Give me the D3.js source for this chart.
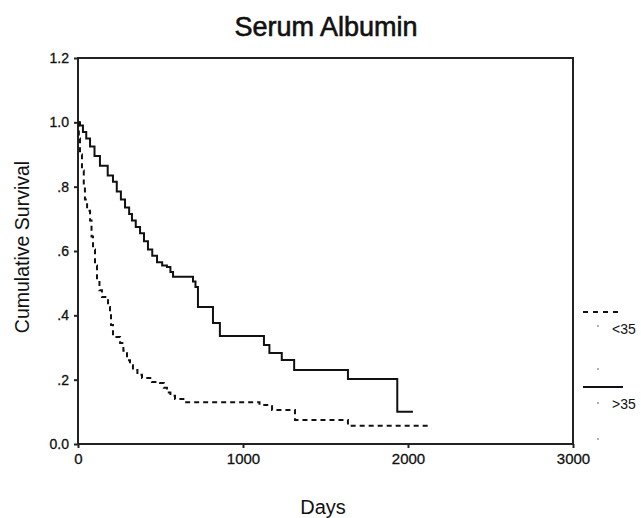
<!DOCTYPE html>
<html lang="en">
<head>
	<meta charset="utf-8">
	<title>Serum Albumin</title>
	<script src="https://cdn.jsdelivr.net/npm/d3@7"></script>
	<style>
		body { margin: 0; background: #fff; }
		text { font-family: "Liberation Sans", Arial, sans-serif; fill: #111; }
	</style>
</head>
<body>
	<script>

		// survival steps: day at which the curve steps, and the survival after it
		var highDays = [0, 12, 30, 50, 73, 100, 133, 164, 180, 212, 235, 260, 285, 310, 327, 350, 376, 400, 424, 450, 479, 510, 539, 560, 576, 697, 712, 727, 818, 860, 1127, 1160, 1235, 1310, 1636, 1935, 2030];
		var highSurv = [1.0, 0.99, 0.97, 0.95, 0.925, 0.895, 0.865, 0.865, 0.835, 0.815, 0.785, 0.76, 0.735, 0.715, 0.695, 0.675, 0.655, 0.63, 0.605, 0.585, 0.565, 0.555, 0.55, 0.535, 0.52, 0.505, 0.488, 0.426, 0.376, 0.336, 0.308, 0.283, 0.261, 0.23, 0.202, 0.1, 0.1];

		var lowDays = [0, 5, 12, 24, 35, 42, 55, 73, 82, 91, 103, 115, 130, 145, 182, 194, 200, 212, 255, 275, 297, 315, 333, 360, 388, 448, 497, 520, 539, 560, 588, 648, 1100, 1176, 1315, 1636, 2133];
		var lowSurv = [1.0, 0.95, 0.9, 0.85, 0.8, 0.76, 0.725, 0.695, 0.645, 0.605, 0.555, 0.515, 0.478, 0.457, 0.426, 0.407, 0.37, 0.333, 0.314, 0.29, 0.26, 0.245, 0.23, 0.215, 0.205, 0.193, 0.19, 0.175, 0.16, 0.15, 0.14, 0.13, 0.121, 0.106, 0.075, 0.057, 0.057];

		var xTicks = [0, 1000, 2000, 3000];
		var yTicks = [0, 0.2, 0.4, 0.6, 0.8, 1.0, 1.2];
		var yTickLabels = ["0.0", ".2", ".4", ".6", ".8", "1.0", "1.2"];
		var groups = ["<35", ">35"];

		var w = 641, h = 518;
		var pLeft = 78, pRight = 573, pTop = 58, pBottom = 444;

		var svg = d3.select("body").append("svg")
			.attr("width", w)
			.attr("height", h);

		var x = d3.scaleLinear().domain([0, 3000]).range([pLeft, pRight]);
		var y = d3.scaleLinear().domain([0, 1.2]).range([pBottom, pTop]);

		// title (scan looks a bit heavier than plain regular)
		svg.append("text")
			.attr("x", 326)
			.attr("y", 36)
			.attr("text-anchor", "middle")
			.attr("font-size", "27px")
			.attr("stroke", "#111")
			.attr("stroke-width", 0.6)
			.text("Serum Albumin");

		// frame
		svg.append("rect")
			.attr("x", pLeft)
			.attr("y", pTop)
			.attr("width", pRight - pLeft)
			.attr("height", pBottom - pTop)
			.attr("fill", "none")
			.attr("stroke", "#222")
			.attr("stroke-width", 2);

		// axes
		var yAxis = d3.axisLeft(y)
			.tickValues(yTicks)
			.tickSize(4)
			.tickFormat(function(d, i){ return yTickLabels[i]; });
		var gy = svg.append("g")
			.attr("transform", "translate(" + pLeft + ",0)")
			.call(yAxis);
		gy.select(".domain").remove();
		gy.selectAll("line").attr("stroke", "#222").attr("stroke-width", 2);
		gy.selectAll("text")
			.attr("font-size", "14px")
			.attr("font-family", "Liberation Sans, Arial, sans-serif")
			.attr("stroke", "#111")
			.attr("stroke-width", 0.3)
			.attr("x", -9);

		var xAxis = d3.axisBottom(x)
			.tickValues(xTicks)
			.tickSize(4)
			.tickFormat(d3.format("d"));
		var gx = svg.append("g")
			.attr("transform", "translate(0," + pBottom + ")")
			.call(xAxis);
		gx.select(".domain").remove();
		gx.selectAll("line").attr("stroke", "#222").attr("stroke-width", 2);
		gx.selectAll("text")
			.attr("font-size", "15px")
			.attr("font-family", "Liberation Sans, Arial, sans-serif")
			.attr("stroke", "#111")
			.attr("stroke-width", 0.3)
			.attr("dy", null)
			.attr("y", 20);

		// axis titles
		svg.append("text")
			.attr("x", 323)
			.attr("y", 514)
			.attr("text-anchor", "middle")
			.attr("font-size", "20px")
			.text("Days");

		svg.append("text")
			.attr("transform", "translate(29,247) rotate(-90)")
			.attr("text-anchor", "middle")
			.attr("font-size", "19.5px")
			.text("Cumulative Survival");

		// survival curves
		var line = d3.line()
			.x(function(d){ return x(d[0]); })
			.y(function(d){ return y(d[1]); })
			.curve(d3.curveStepAfter);

		svg.append("path")
			.datum(d3.zip(lowDays, lowSurv))
			.attr("d", line)
			.attr("fill", "none")
			.attr("stroke", "#111")
			.attr("stroke-width", 2)
			.attr("stroke-dasharray", "5,4");

		svg.append("path")
			.datum(d3.zip(highDays, highSurv))
			.attr("d", line)
			.attr("fill", "none")
			.attr("stroke", "#111")
			.attr("stroke-width", 2);

		// legend
		var legY = [312, 387];
		groups.forEach(function(g, i){
			svg.append("line")
				.attr("x1", 583).attr("x2", 623)
				.attr("y1", legY[i]).attr("y2", legY[i])
				.attr("stroke", "#111")
				.attr("stroke-width", 2)
				.attr("stroke-dasharray", i == 0 ? "5,5" : null);
			svg.append("text")
				.attr("x", 612)
				.attr("y", legY[i] + 22)
				.attr("font-size", "14px")
				.text(g);
		});

		svg.selectAll("circle.dot")
			.data([326, 369, 403, 439])
			.enter()
			.append("circle")
			.attr("cx", 598)
			.attr("cy", function(d){ return d; })
			.attr("r", 1)
			.attr("fill", "#999");

	</script>
</body>
</html>
